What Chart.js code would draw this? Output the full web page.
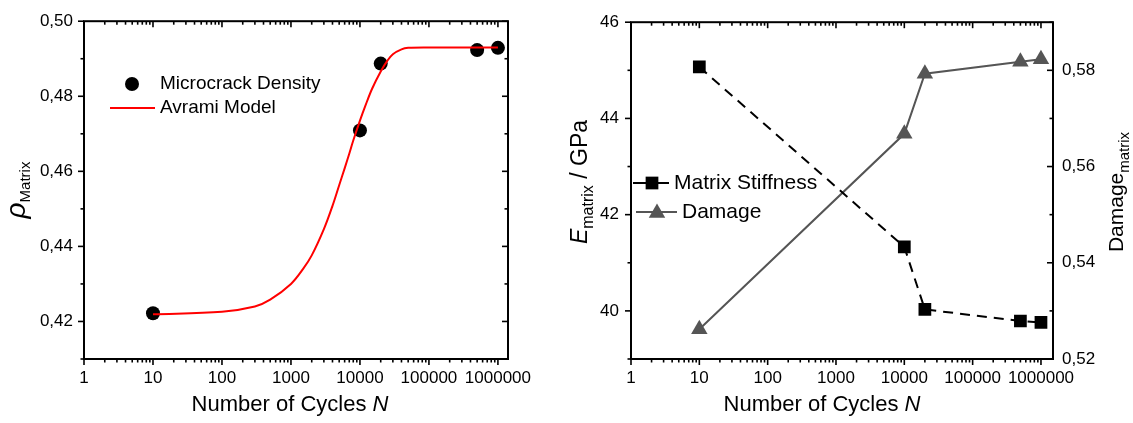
<!DOCTYPE html>
<html>
<head>
<meta charset="utf-8">
<script src="https://cdn.jsdelivr.net/npm/chart.js"></script>
<style>
body { margin: 0; background: #fff; width: 1133px; height: 423px; overflow: hidden; }
.box { position: absolute; top: 0; height: 423px; }
#leftBox { left: 0; width: 560px; }
#rightBox { left: 560px; width: 573px; }
</style>
</head>
<body>
<div class="box" id="leftBox"><canvas id="leftChart" width="560" height="423"></canvas></div>
<div class="box" id="rightBox"><canvas id="rightChart" width="573" height="423"></canvas></div>
<script>
// left panel: microcrack density vs cycles
var cyclesLeft = [10, 10000, 20000, 500000, 1000000];
var crackDensity = [0.4222, 0.4709, 0.4887, 0.4923, 0.4929];
// Avrami fit curve
var avramiCycles = [10, 100, 300, 500, 1000, 1500, 2000, 3000, 4000, 5000, 6000, 7000, 8000, 10000, 12000, 15000, 20000, 25000, 30000, 40000, 50000, 100000, 1000000];
var avramiDensity = [0.4219, 0.4226, 0.4240, 0.4258, 0.4300, 0.4340, 0.4376, 0.4446, 0.4508, 0.4563, 0.4608, 0.4647, 0.4682, 0.4735, 0.4775, 0.4820, 0.4866, 0.4895, 0.4912, 0.4925, 0.4929, 0.4930, 0.4930];
var rhoTicks = [0.42, 0.44, 0.46, 0.48, 0.50];
var rhoMinor = [0.41, 0.43, 0.45, 0.47, 0.49];

// right panel: stiffness + damage
var cyclesRight = [10, 10000, 20000, 500000, 1000000];
var stiffness = [45.07, 41.33, 40.03, 39.79, 39.76];
var damage = [0.5262, 0.5668, 0.5793, 0.5818, 0.5823];
var stiffTicks = [40, 42, 44, 46];
var stiffMinor = [39, 41, 43, 45];
var damageTicks = [0.52, 0.54, 0.56, 0.58];
var damageMinor = [0.53, 0.55, 0.57, 0.59];

var cycleTicks = [1, 10, 100, 1000, 10000, 100000, 1000000];

var FONT = '"Liberation Sans", Arial, sans-serif';

function comma(v) { return v.toFixed(2).replace('.', ','); }

function logMinor(max) {
    var out = [];
    for (var p = 1; p <= max; p *= 10) {
        for (var m = 2; m <= 9; m++) {
            if (p * m <= max) out.push(p * m);
        }
    }
    return out;
}

function pts(xs, ys) {
    return xs.map(function (x, i) { return { x: x, y: ys[i] }; });
}

function drawRich(ctx, parts, cx, cy, angle) {
    ctx.save();
    ctx.translate(cx, cy);
    ctx.rotate(angle);
    var total = 0;
    parts.forEach(function (p) { ctx.font = p.font; p.w = ctx.measureText(p.t).width; total += p.w; });
    var x = -total / 2;
    ctx.fillStyle = '#000';
    ctx.textBaseline = 'alphabetic';
    ctx.textAlign = 'left';
    parts.forEach(function (p) { ctx.font = p.font; ctx.fillText(p.t, x, p.dy || 0); x += p.w; });
    ctx.restore();
}

// box + inward/outward ticks like the original plot
var framePlugin = {
    id: 'frame',
    afterDraw: function (chart, args, o) {
        var ctx = chart.ctx, a = chart.chartArea;
        var xs = chart.scales.x, yl = chart.scales[o.leftId], yr = chart.scales[o.rightId];
        ctx.save();
        ctx.strokeStyle = '#000';
        ctx.lineWidth = 1.6;
        function seg(x1, y1, x2, y2) { ctx.beginPath(); ctx.moveTo(x1, y1); ctx.lineTo(x2, y2); ctx.stroke(); }
        o.xMajor.forEach(function (v) {
            var x = xs.getPixelForValue(v);
            seg(x, a.bottom, x, a.bottom + 6);
            seg(x, a.top, x, a.top + 6);
        });
        o.xMinor.forEach(function (v) {
            var x = xs.getPixelForValue(v);
            seg(x, a.bottom, x, a.bottom + 3.5);
            seg(x, a.top, x, a.top + 3.5);
        });
        o.leftMajor.forEach(function (v) { var y = yl.getPixelForValue(v); seg(a.left - 6, y, a.left, y); });
        o.leftMinor.forEach(function (v) { var y = yl.getPixelForValue(v); seg(a.left - 3.5, y, a.left, y); });
        o.rightMajor.forEach(function (v) { var y = yr.getPixelForValue(v); seg(a.right - 6, y, a.right, y); });
        o.rightMinor.forEach(function (v) { var y = yr.getPixelForValue(v); seg(a.right - 3.5, y, a.right, y); });
        ctx.lineWidth = 2;
        ctx.strokeRect(a.left, a.top, a.right - a.left, a.bottom - a.top);
        ctx.restore();
    }
};

var leftText = {
    id: 'leftText',
    afterDraw: function (chart) {
        var ctx = chart.ctx;
        drawRich(ctx, [
            { t: 'Number of Cycles ', font: '22px ' + FONT },
            { t: 'N', font: 'italic 22px ' + FONT }
        ], 290, 411, 0);
        drawRich(ctx, [
            { t: 'ρ', font: 'italic 28px ' + FONT },
            { t: 'Matrix', font: '15px ' + FONT, dy: 5 }
        ], 25, 190, -Math.PI / 2);

        // legend
        ctx.save();
        ctx.fillStyle = '#000';
        Chart.helpers.drawPoint(ctx, { pointStyle: 'circle', radius: 7, rotation: 0, borderWidth: 0 }, 132, 84);
        ctx.strokeStyle = '#ff0000';
        ctx.lineWidth = 2;
        ctx.beginPath(); ctx.moveTo(110, 108); ctx.lineTo(155, 108); ctx.stroke();
        ctx.fillStyle = '#000';
        ctx.font = '19px ' + FONT;
        ctx.textBaseline = 'middle';
        ctx.fillText('Microcrack Density', 160, 84);
        ctx.fillText('Avrami Model', 160, 108);
        ctx.restore();
    }
};

var rightText = {
    id: 'rightText',
    afterDraw: function (chart) {
        var ctx = chart.ctx;
        drawRich(ctx, [
            { t: 'Number of Cycles ', font: '22px ' + FONT },
            { t: 'N', font: 'italic 22px ' + FONT }
        ], 822 - 560, 411, 0);
        drawRich(ctx, [
            { t: 'E', font: 'italic 23px ' + FONT },
            { t: 'matrix', font: '16px ' + FONT, dy: 6 },
            { t: ' / GPa', font: '23px ' + FONT }
        ], 587 - 560, 182, -Math.PI / 2);
        drawRich(ctx, [
            { t: 'Damage', font: '21px ' + FONT },
            { t: 'matrix', font: '15px ' + FONT, dy: 6 }
        ], 1123 - 560, 192, -Math.PI / 2);

        // legend
        ctx.save();
        ctx.strokeStyle = '#000';
        ctx.lineWidth = 2;
        ctx.beginPath(); ctx.moveTo(633 - 560, 183); ctx.lineTo(669 - 560, 183); ctx.stroke();
        ctx.fillStyle = '#000';
        Chart.helpers.drawPoint(ctx, { pointStyle: 'rect', radius: 9, rotation: 0, borderWidth: 0 }, 652 - 560, 183);
        ctx.strokeStyle = '#555';
        ctx.lineWidth = 2;
        ctx.beginPath(); ctx.moveTo(636 - 560, 212); ctx.lineTo(677 - 560, 212); ctx.stroke();
        ctx.fillStyle = '#555';
        Chart.helpers.drawPoint(ctx, { pointStyle: 'triangle', radius: 9.5, rotation: 0, borderWidth: 0 }, 657 - 560, 213);
        ctx.fillStyle = '#000';
        ctx.font = '21px ' + FONT;
        ctx.textBaseline = 'middle';
        ctx.fillText('Matrix Stiffness', 674 - 560, 183);
        ctx.fillText('Damage', 682 - 560, 212);
        ctx.restore();
    }
};

function xAxis(max) {
    return {
        type: 'logarithmic',
        min: 1,
        max: max,
        grid: { display: false, drawTicks: false },
        border: { display: false },
        afterBuildTicks: function (s) { s.ticks = cycleTicks.map(function (v) { return { value: v }; }); },
        afterFit: function (s) { s.height = 64; },
        ticks: {
            autoSkip: false,
            maxRotation: 0,
            padding: 9,
            color: '#000',
            font: { family: FONT, size: 17 },
            callback: function (v) { return String(v); }
        }
    };
}

function yAxis(pos, min, max, ticks, width, pad, fmt) {
    return {
        type: 'linear',
        position: pos,
        min: min,
        max: max,
        grid: { display: false, drawTicks: false },
        border: { display: false },
        afterBuildTicks: function (s) { s.ticks = ticks.map(function (v) { return { value: v }; }); },
        afterFit: function (s) { s.width = width; },
        ticks: {
            padding: pad,
            color: '#000',
            font: { family: FONT, size: 17 },
            callback: fmt
        }
    };
}

var ctxLeft = document.getElementById('leftChart').getContext('2d');
var leftChart = new Chart(ctxLeft, {
    type: 'scatter',
    data: {
        datasets: [{
            type: 'line',
            label: 'Avrami Model',
            data: pts(avramiCycles, avramiDensity),
            borderColor: '#ff0000',
            borderWidth: 2,
            pointRadius: 0,
            tension: 0.35,
            order: 1
        }, {
            label: 'Microcrack Density',
            data: pts(cyclesLeft, crackDensity),
            pointRadius: 7,
            backgroundColor: '#000',
            borderColor: '#000',
            borderWidth: 0,
            order: 2
        }]
    },
    options: {
        responsive: false,
        animation: false,
        devicePixelRatio: 1,
        layout: { padding: { top: 19, right: 52, left: 0, bottom: 0 } },
        scales: {
            x: xAxis(1.4e6),
            y: yAxis('left', 0.41, 0.50, rhoTicks, 84, 11, function (v) { return comma(v); })
        },
        plugins: {
            legend: { display: false },
            tooltip: { enabled: false },
            frame: {
                leftId: 'y', rightId: 'y',
                xMajor: cycleTicks, xMinor: logMinor(1.4e6),
                leftMajor: rhoTicks, leftMinor: rhoMinor,
                rightMajor: rhoTicks, rightMinor: rhoMinor
            }
        }
    },
    plugins: [framePlugin, leftText]
});

var ctxRight = document.getElementById('rightChart').getContext('2d');
var rightChart = new Chart(ctxRight, {
    type: 'line',
    data: {
        datasets: [{
            label: 'Matrix Stiffness',
            data: pts(cyclesRight, stiffness),
            yAxisID: 'y',
            borderColor: '#000',
            borderWidth: 2,
            borderDash: [10, 7],
            pointStyle: 'rect',
            pointRadius: 9,
            pointBorderWidth: 0,
            backgroundColor: '#000',
            tension: 0
        }, {
            label: 'Damage',
            data: pts(cyclesRight, damage),
            yAxisID: 'y1',
            borderColor: '#555',
            borderWidth: 2,
            pointStyle: 'triangle',
            pointRadius: 9.5,
            pointBorderWidth: 0,
            backgroundColor: '#555',
            tension: 0
        }]
    },
    options: {
        responsive: false,
        animation: false,
        devicePixelRatio: 1,
        layout: { padding: { top: 19, right: 0, left: 0, bottom: 0 } },
        scales: {
            x: xAxis(1.5e6),
            y: yAxis('left', 39, 46, stiffTicks, 71, 12, function (v) { return String(v); }),
            y1: yAxis('right', 0.52, 0.59, damageTicks, 80, 9, function (v) { return comma(v); })
        },
        plugins: {
            legend: { display: false },
            tooltip: { enabled: false },
            frame: {
                leftId: 'y', rightId: 'y1',
                xMajor: cycleTicks, xMinor: logMinor(1.5e6),
                leftMajor: stiffTicks, leftMinor: stiffMinor,
                rightMajor: damageTicks, rightMinor: damageMinor
            }
        }
    },
    plugins: [framePlugin, rightText]
});
</script>
</body>
</html>
